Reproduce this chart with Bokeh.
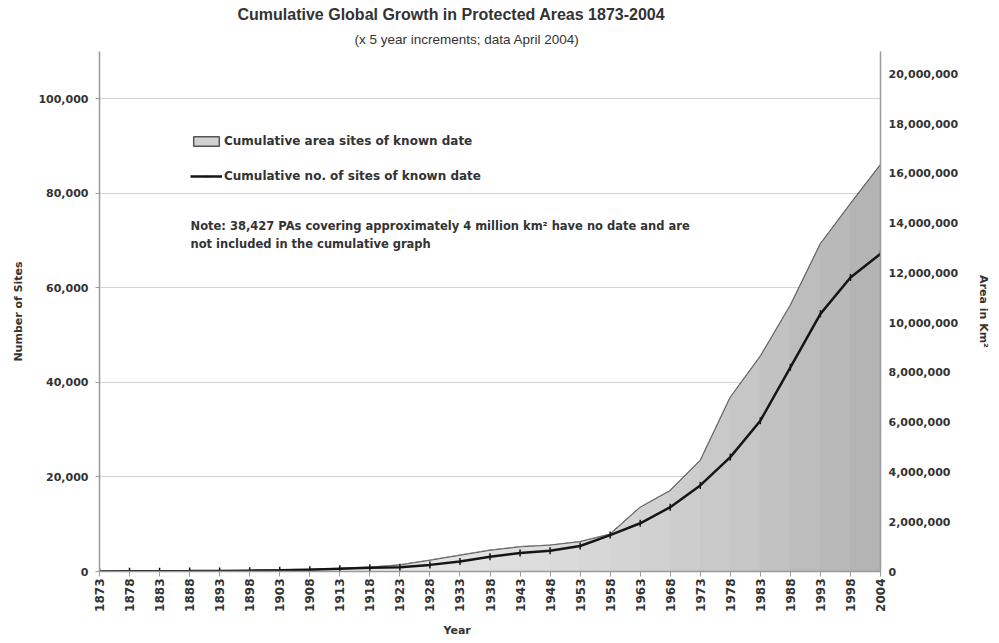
from math import pi
from bokeh.plotting import figure
from bokeh.models import (Range1d, LinearAxis, FixedTicker, NumeralTickFormatter,
                          ColumnDataSource, Legend, LegendItem, Label, Title)
from bokeh.embed import file_html
from bokeh.resources import INLINE

# ---------------- data ----------------
years = [1873, 1878, 1883, 1888, 1893, 1898, 1903, 1908, 1913, 1918, 1923, 1928, 1933,
         1938, 1943, 1948, 1953, 1958, 1963, 1968, 1973, 1978, 1983, 1988, 1993, 1998, 2004]
sites = [20, 40, 60, 90, 130, 180, 240, 360, 570, 780, 900, 1400, 2100,
         3100, 3900, 4400, 5400, 7700, 10200, 13600, 18200, 24200, 31900, 43200, 54500, 62200, 67200]
area_km2 = [8000, 10000, 15000, 20000, 30000, 40000, 60000, 90000, 120000, 170000, 260000, 450000, 650000,
            850000, 990000, 1060000, 1200000, 1500000, 2580000, 3250000, 4460000, 7000000, 8650000,
            10700000, 13170000, 14780000, 16350000]
left_ticks = [0, 20000, 40000, 60000, 80000, 100000]
right_ticks = [0, 2000000, 4000000, 6000000, 8000000, 10000000, 12000000, 14000000,
               16000000, 18000000, 20000000]
title_text = "Cumulative Global Growth in Protected Areas 1873-2004"
subtitle_text = "(x 5 year increments; data April 2004)"
legend_labels = ["Cumulative area sites of known date", "Cumulative no. of sites of known date"]
note_lines = ["Note: 38,427 PAs covering approximately 4 million km\u00b2 have no date and are",
              "not included in the cumulative graph"]
right_label = "Area in Km\u00b2"

FONT = "DejaVu Sans"
TXT = "#333333"
AXC = "#9a9a9a"

idx = list(range(len(years)))
n = len(years)

p = figure(width=999, height=643, x_range=Range1d(0, n - 1), y_range=Range1d(0, 110000),
           output_backend="svg", toolbar_location=None,
           min_border_left=99, min_border_right=119, min_border_top=51, min_border_bottom=72)
p.extra_y_ranges = {"area": Range1d(0, 20900000)}
p.outline_line_color = None
p.background_fill_color = "white"
p.border_fill_color = "white"
p.xgrid.visible = False
p.ygrid.ticker = FixedTicker(ticks=left_ticks)
p.ygrid.grid_line_color = "#d2d2d2"
p.ygrid.grid_line_width = 1

# ---------------- area (gradient via segments) ----------------
def grey(t):
    g = int(round(240 - 62 * (t ** 2)))
    return "#%02x%02x%02x" % (g, g, g)

poly_x = idx + [idx[-1], idx[0]]
poly_y = area_km2 + [0, 0]
# base polygon (also used as legend glyph)
area_base = p.patch(poly_x, poly_y, fill_color="#d2d2d2", line_color="#555555",
                    line_width=1.5, y_range_name="area")

seg_colors = [grey((i + 0.5) / (n - 1)) for i in range(n - 1)]
seg_src = ColumnDataSource(dict(
    xs=[[idx[i], idx[i + 1], idx[i + 1], idx[i]] for i in range(n - 1)],
    ys=[[area_km2[i], area_km2[i + 1], 0, 0] for i in range(n - 1)],
    c=seg_colors))
p.patches("xs", "ys", source=seg_src, fill_color="c", line_color="c", line_width=1,
          y_range_name="area")
p.patch(poly_x, poly_y, fill_color=None, line_color="#5e5e5e",
        line_width=1, y_range_name="area")

# ---------------- line ----------------
src = ColumnDataSource(dict(x=idx, s=sites))
ln = p.line("x", "s", source=src, line_color="#151515", line_width=2.5)
mk = p.scatter("x", "s", source=src, marker="dash", angle=pi / 2, size=7,
               line_color="#151515", line_width=1.5)

legend = Legend(items=[LegendItem(label=legend_labels[0], renderers=[area_base]),
                       LegendItem(label=legend_labels[1], renderers=[ln, mk])],
                location=(91, 388), glyph_width=32, glyph_height=12, label_standoff=2,
                spacing=21, padding=0, margin=0, border_line_color=None,
                background_fill_alpha=0, label_text_font=FONT, label_text_font_size="12px",
                label_text_font_style="bold", label_text_color=TXT, label_height=12)
p.add_layout(legend)

# note
for k, line in enumerate(note_lines):
    p.add_layout(Label(x=3.03, y=73150 - k * 3810, text=line, text_font=FONT,
                       text_font_size="11.5px", text_font_style="bold", text_color=TXT,
                       text_baseline="middle", text_align="left"))

# ---------------- axes ----------------
ya = p.yaxis[0]
ya.ticker = FixedTicker(ticks=left_ticks)
ya.formatter = NumeralTickFormatter(format="0,0")
ya.axis_label = "Number of Sites"
ya.axis_label_standoff = 10
ya.major_label_standoff = 7

ra = LinearAxis(y_range_name="area", ticker=FixedTicker(ticks=right_ticks),
                formatter=NumeralTickFormatter(format="0,0"))
ra.major_label_standoff = 8
ra.major_tick_out = 0
ra.axis_label = right_label
ra.axis_label_orientation = "vertical"
ra.axis_label_standoff = 16
p.add_layout(ra, "right")

xa = p.xaxis[0]
xa.ticker = FixedTicker(ticks=idx)
xa.major_label_overrides = {i: str(y) for i, y in zip(idx, years)}
xa.major_label_orientation = pi / 2
xa.major_label_standoff = 2
xa.major_tick_out = 5

for ax in [ya, ra, xa]:
    ax.axis_line_color = AXC
    ax.axis_line_width = 1.5
    ax.major_tick_line_color = AXC
    ax.major_tick_in = 0
    ax.minor_tick_line_color = None
    ax.major_label_text_font = FONT
    ax.major_label_text_font_style = "bold"
    ax.major_label_text_color = TXT
    ax.axis_label_text_font = FONT
    ax.axis_label_text_font_size = "11px"
    ax.axis_label_text_font_style = "bold"
    ax.axis_label_text_color = TXT
ya.major_label_text_font_size = "11px"
ra.major_label_text_font_size = "11px"
xa.major_label_text_font_size = "12px"
ya.major_tick_out = 4

# ---------------- titles ----------------
p.add_layout(Title(text="Year", align="left", offset=344, text_font=FONT,
                   text_font_size="11px", text_font_style="bold", text_color=TXT,
                   standoff=14), "below")
p.add_layout(Title(text=subtitle_text, align="left", offset=255, text_font="Liberation Sans",
                   text_font_size="13.5px", text_font_style="normal", text_color=TXT,
                   standoff=10), "above")
p.add_layout(Title(text=title_text, align="left", offset=138, text_font="Liberation Sans",
                   text_font_size="16px", text_font_style="bold", text_color=TXT,
                   standoff=3), "above")

open("out.html", "w").write(file_html(p, INLINE))
